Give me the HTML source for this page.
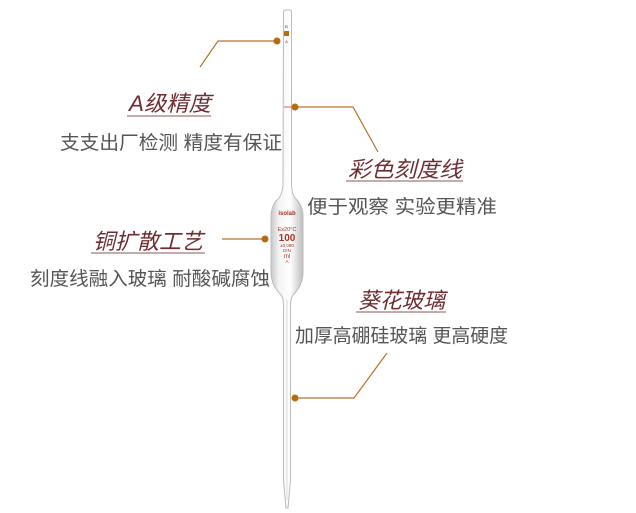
<!DOCTYPE html>
<html><head><meta charset="utf-8"><style>
html,body{margin:0;padding:0;background:#fff;}
svg{display:block;}
.t{font-family:"Liberation Sans","Noto Sans CJK SC",sans-serif;font-size:22px;fill:#6e2e30;font-style:italic;}
.b{font-family:"Liberation Sans","Noto Sans CJK SC",sans-serif;font-size:19px;fill:#555;}
</style></head><body>
<svg width="636" height="513" viewBox="0 0 636 513">
<defs>
<linearGradient id="g" x1="0" x2="1">
<stop offset="0" stop-color="#c8c8c8"/><stop offset="0.25" stop-color="#f4f4f4"/><stop offset="0.6" stop-color="#fff"/><stop offset="1" stop-color="#bdbdbd"/>
</linearGradient>
</defs>
<path d="M283.5,12 Q283.5,10 285.5,10 L289.5,10 Q291.5,10 291.5,12 L291.5,185 Q292,196 297,200 Q303,206 303,218 L303,272 Q303,285 293,295 Q290.5,298 290.5,306 L290.5,480 L288,508 L286,508 L283.5,480 L283.5,306 Q283.5,298 281,295 Q271,285 271,272 L271,218 Q271,206 277,200 Q282,196 283,185 Z" fill="url(#g)" stroke="#bbb" stroke-width="1"/>
<line x1="287" y1="300" x2="287" y2="500" stroke="#ddd" stroke-width="1"/>
<rect x="284" y="31" width="5" height="5" fill="#b86a10"/>
<text x="286.5" y="28" font-size="4" fill="#8a3020" text-anchor="middle" font-family="Liberation Sans">El</text>
<text x="286.5" y="43" font-size="4" fill="#8a3020" text-anchor="middle" font-family="Liberation Sans">A</text>
<line x1="284" y1="107" x2="291" y2="107" stroke="#c66" stroke-width="1"/>
<text x="287" y="215" font-size="6" fill="#b03020" text-anchor="middle" font-family="Liberation Sans" font-weight="bold">isolab</text>
<text x="287" y="231" font-size="5.5" fill="#b03020" text-anchor="middle" font-family="Liberation Sans">Ex20°C</text>
<text x="287" y="241" font-size="10" fill="#b03020" text-anchor="middle" font-family="Liberation Sans" font-weight="bold">100</text>
<text x="287" y="247" font-size="4.5" fill="#b03020" text-anchor="middle" font-family="Liberation Sans">±0,080</text>
<text x="287" y="252" font-size="4.5" fill="#b03020" text-anchor="middle" font-family="Liberation Sans">DIN</text>
<text x="287" y="258" font-size="6" fill="#b03020" text-anchor="middle" font-family="Liberation Sans">ml</text>
<text x="287" y="263" font-size="4.5" fill="#b03020" text-anchor="middle" font-family="Liberation Sans">A</text>
<g stroke="#b8732a" stroke-width="1.2" fill="none">
<polyline points="200,67 218,41 277,41"/>
<polyline points="295,107 353,107 378,152"/>
<polyline points="222,239 265,239"/>
<polyline points="387,353 354,398 295,398"/>
</g>
<g fill="#b86a10">
<circle cx="277" cy="41" r="3.5"/><circle cx="295" cy="107" r="3.5"/>
<circle cx="265" cy="239" r="3.5"/><circle cx="295" cy="398" r="3.5"/>
</g>
<text class="t" x="129" y="111" textLength="82" lengthAdjust="spacingAndGlyphs">A级精度</text>
<line x1="127" y1="116" x2="211" y2="116" stroke="#8a5a5a" stroke-width="1"/>
<text class="b" x="60" y="149" textLength="222" lengthAdjust="spacingAndGlyphs">支支出厂检测 精度有保证</text>
<text class="t" x="348" y="177" textLength="114" lengthAdjust="spacingAndGlyphs">彩色刻度线</text>
<line x1="346" y1="181" x2="463" y2="181" stroke="#8a5a5a" stroke-width="1"/>
<text class="b" x="307" y="213" textLength="190" lengthAdjust="spacingAndGlyphs">便于观察 实验更精准</text>
<text class="t" x="93" y="249" textLength="110" lengthAdjust="spacingAndGlyphs">铜扩散工艺</text>
<line x1="91" y1="253" x2="205" y2="253" stroke="#8a5a5a" stroke-width="1"/>
<text class="b" x="30" y="285" textLength="240" lengthAdjust="spacingAndGlyphs">刻度线融入玻璃 耐酸碱腐蚀</text>
<text class="t" x="358" y="308" textLength="87" lengthAdjust="spacingAndGlyphs">葵花玻璃</text>
<line x1="356" y1="312" x2="446" y2="312" stroke="#8a5a5a" stroke-width="1"/>
<text class="b" x="295" y="342" textLength="213" lengthAdjust="spacingAndGlyphs">加厚高硼硅玻璃 更高硬度</text>
</svg>
</body></html>
